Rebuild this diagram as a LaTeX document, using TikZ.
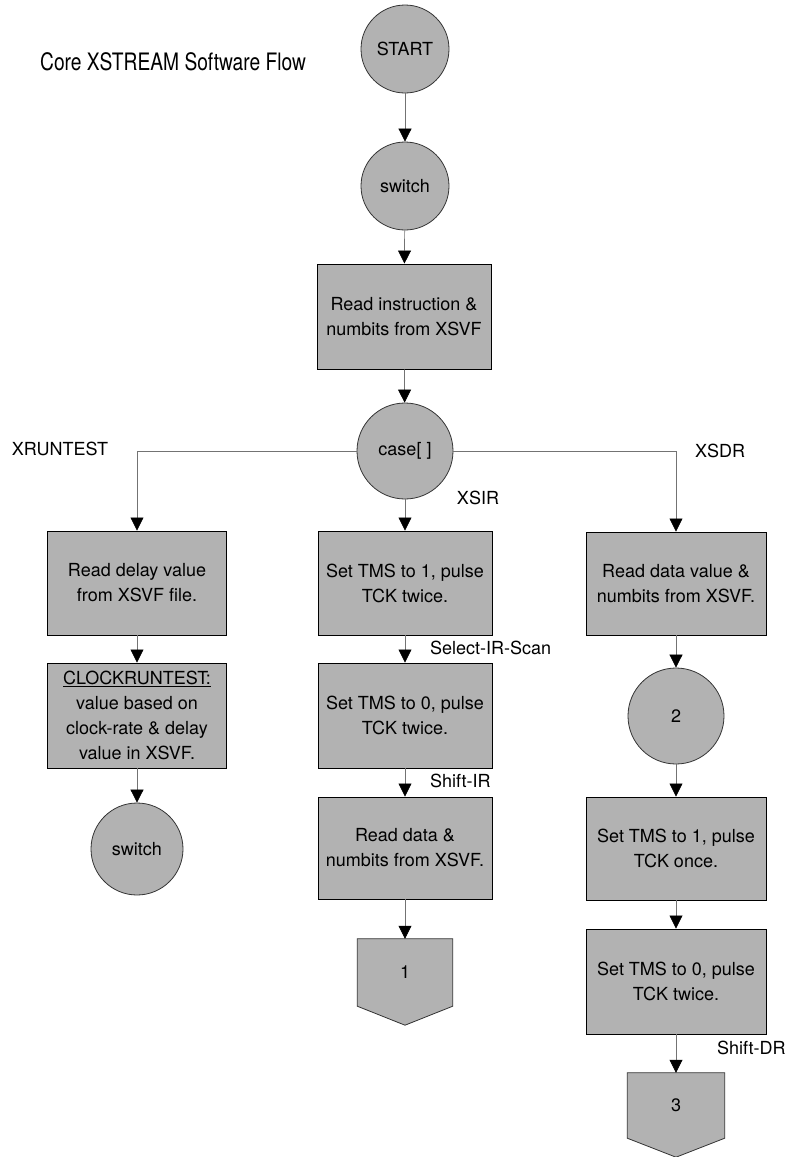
\documentclass[tikz,border=0pt]{standalone}
\usepackage{fontspec}
\setmainfont{TeX Gyre Heros}
\newfontfamily\titlefont[FakeStretch=0.80]{TeX Gyre Heros}
\usetikzlibrary{arrows.meta,calc}
\definecolor{shade}{gray}{0.70}
\definecolor{wire}{gray}{0.45}
\begin{document}
\begin{tikzpicture}[x=1pt,y=-1pt,
  txt/.style={font=\fontsize{18}{25}\selectfont},
  stepbox/.style={txt,draw=black,line width=0.9pt,fill=shade,minimum width=180pt,
    minimum height=104pt,align=center,inner sep=0pt},
  bubble/.style={txt,circle,draw=black!80,line width=0.8pt,fill=shade,
    minimum size=#1,inner sep=0pt},
  bubble/.default=92pt,
  jumpbody/.style={minimum width=#1,inner sep=0pt},
  pent/.style={draw=black!80,line width=0.8pt,fill=shade},
  flow/.style={draw=wire,line width=0.7pt,-{Triangle[width=13pt,length=13pt,color=black]}},
  tag/.style={txt,inner sep=0pt},
]
\useasboundingbox (0,0) rectangle (791,1157);

% title
\node[font=\titlefont\fontsize{24}{28}\selectfont,anchor=west,inner sep=0pt] (title) at (40,62) {Core XSTREAM Software Flow};

% main trunk
\node[bubble=88pt] (start) at (405,49) {START};
\node[bubble=88pt] (sw) at (405,186) {switch};
\node[stepbox,minimum width=174pt,minimum height=105pt] (rdins) at (404,316.5) {Read instruction \&\\numbits from XSVF};
\node[bubble=96pt] (case) at (405,451) {case[ ]};

% XRUNTEST branch
\node[stepbox,minimum width=179pt] (lb1) at (137,583) {Read delay value\\from XSVF file.};
\node[stepbox,minimum width=179pt,minimum height=105pt] (lb2) at (137,715.5) {\underline{CLOCKRUNTEST:}\\value based on\\clock-rate \& delay\\value in XSVF.};
\node[bubble=92pt] (lsw) at (137,849) {switch};

% XSIR branch
\node[stepbox,minimum width=174pt] (mb1) at (405,583) {Set TMS to 1, pulse\\TCK twice.};
\node[stepbox,minimum width=174pt,minimum height=105pt] (mb2) at (405,715.5) {Set TMS to 0, pulse\\TCK twice.};
\node[stepbox,minimum width=174pt,minimum height=102pt] (mb3) at (405,848) {Read data \&\\numbits from XSVF.};
\node[jumpbody=95pt,minimum height=67pt] (jump1) at (405,972.5) {};
\draw[pent] (jump1.north west) -- (jump1.north east) -- (jump1.south east)
  -- ($(jump1.south)+(0,19)$) -- (jump1.south west) -- cycle;
\node[txt] at (jump1) {1};

% XSDR branch
\node[stepbox,minimum height=103pt] (rb1) at (676,583.5) {Read data value \&\\numbits from XSVF.};
\node[bubble=96pt] (r2) at (676,716) {2};
\node[stepbox,minimum height=103pt] (rb3) at (676,848.5) {Set TMS to 1, pulse\\TCK once.};
\node[stepbox,minimum height=105pt] (rb4) at (676,981.5) {Set TMS to 0, pulse\\TCK twice.};
\node[jumpbody=97pt,minimum height=65pt] (jump3) at (676,1105.5) {};
\draw[pent] (jump3.north west) -- (jump3.north east) -- (jump3.south east)
  -- ($(jump3.south)+(0,19)$) -- (jump3.south west) -- cycle;
\node[txt] at (jump3) {3};

% branch and state labels
\node[tag] (tXrun) at (60,449) {XRUNTEST};
\node[tag] (tXsdr) at (720,451) {XSDR};
\node[tag] (tXsir) at (478,498) {XSIR};
\node[tag,anchor=west] (tSel) at (430,648) {Select-IR-Scan};
\node[tag,anchor=west] (tShIR) at (430,781) {Shift-IR};
\node[tag,anchor=west] (tShDR) at (717,1048) {Shift-DR};

% connectors
\draw[flow] (start) -- (sw);
\draw[flow] (sw) -- (rdins);
\draw[flow] (rdins) -- (case);
\draw[flow] (case) -- (mb1);
\draw[flow] (case.west) -| (lb1.north);
\draw[flow] (case.east) -| (rb1.north);
\draw[flow] (lb1) -- (lb2);
\draw[flow] (lb2) -- (lsw);
\draw[flow] (mb1) -- (mb2);
\draw[flow] (mb2) -- (mb3);
\draw[flow] (mb3) -- (jump1);
\draw[flow] (rb1) -- (r2);
\draw[flow] (r2) -- (rb3);
\draw[flow] (rb3) -- (rb4);
\draw[flow] (rb4) -- (jump3);
\end{tikzpicture}
\end{document}
